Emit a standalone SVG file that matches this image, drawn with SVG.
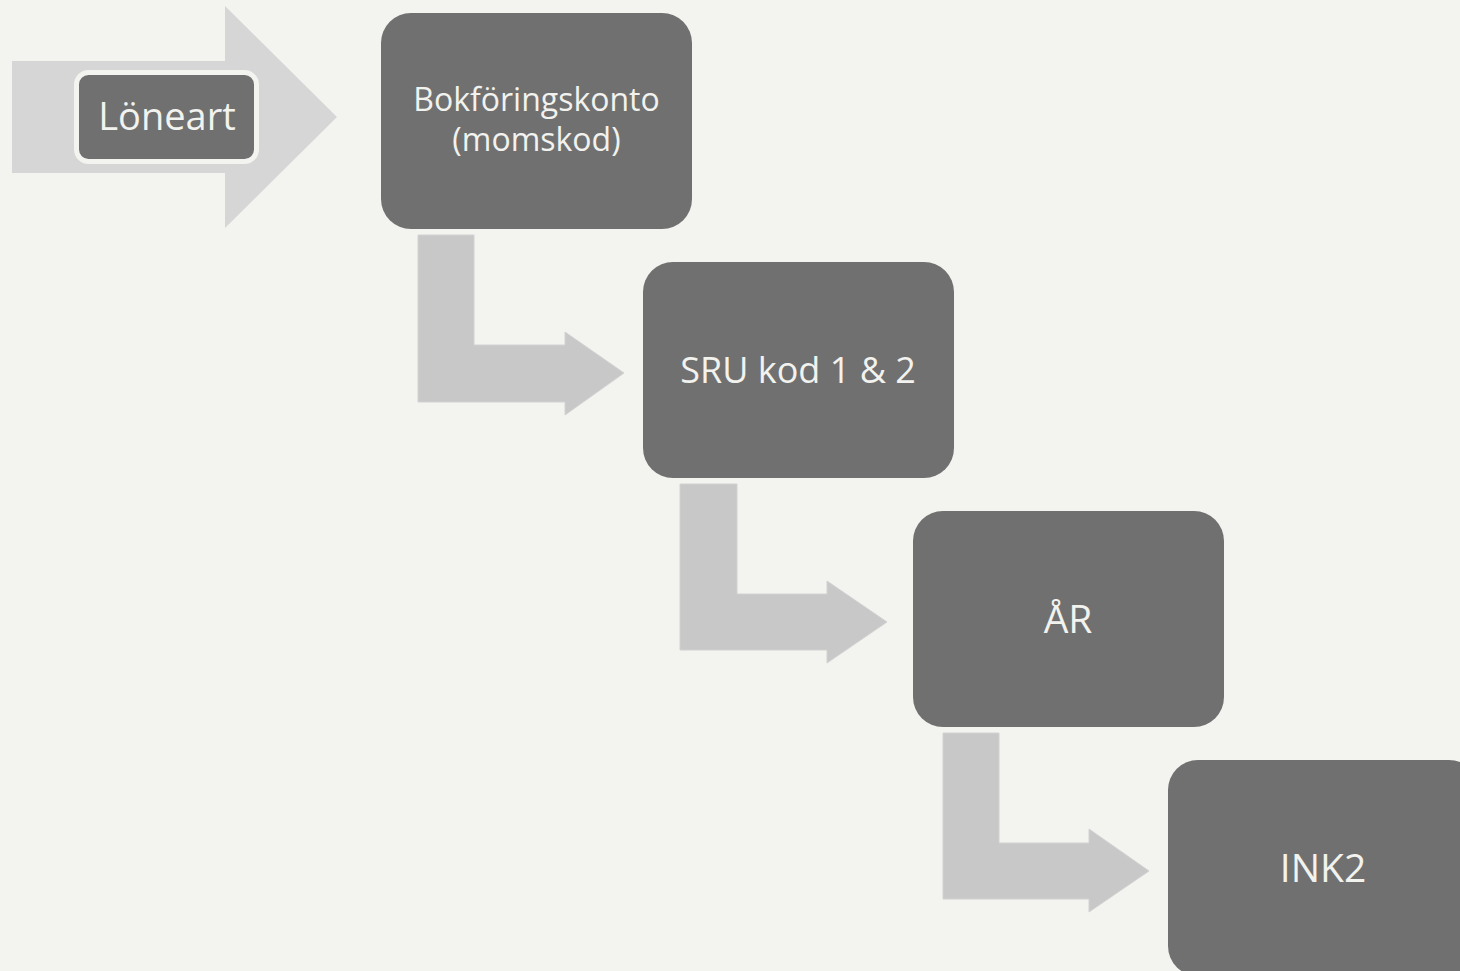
<svg xmlns="http://www.w3.org/2000/svg" width="1460" height="971" viewBox="0 0 1460 971">
<style>
.box{fill:#707070}
.lbl{fill:#f2f2ee;font-family:"Open Sans","Liberation Sans",sans-serif;text-anchor:middle}
.big{fill:#d6d6d6}
.bent{fill:#c8c8c8;stroke:#d2d2d2;stroke-width:1}
</style>
<rect width="1460" height="971" fill="#f3f3ef"/>
<g id="connectors">
<polygon class="big" points="12,61 225,61 225,6 337,117 225,228 225,173 12,173"/>
<polygon class="bent" points="418,235 474,235 474,345 565,345 565,332 624,373 565,415 565,402 418,402"/>
<polygon class="bent" points="680,484 737,484 737,594 827,594 827,581 887,622 827,663 827,650 680,650"/>
<polygon class="bent" points="943,733 999,733 999,843 1089,843 1089,829 1149,871 1089,912 1089,899 943,899"/>
</g>
<g id="loneart">
<rect x="76.5" y="72.5" width="180" height="89" rx="12" fill="#707070" stroke="#f3f3ef" stroke-width="5"/>
<text class="lbl" x="167" y="130" font-size="38">Löneart</text>
</g>
<g id="bokforingskonto">
<rect class="box" x="381" y="13" width="311" height="216" rx="30"/>
<text class="lbl" x="536.5" y="111" font-size="32">Bokföringskonto</text>
<text class="lbl" x="536.5" y="151" font-size="32">(momskod)</text>
</g>
<g id="sru">
<rect class="box" x="643" y="262" width="311" height="216" rx="30"/>
<text class="lbl" x="798" y="383" font-size="36">SRU kod 1 &amp; 2</text>
</g>
<g id="ar">
<rect class="box" x="913" y="511" width="311" height="216" rx="30"/>
<text class="lbl" x="1068" y="633" font-size="39">ÅR</text>
</g>
<g id="ink2">
<rect class="box" x="1168" y="760" width="311" height="216" rx="30"/>
<text class="lbl" x="1323" y="882" font-size="39">INK2</text>
</g>
</svg>
